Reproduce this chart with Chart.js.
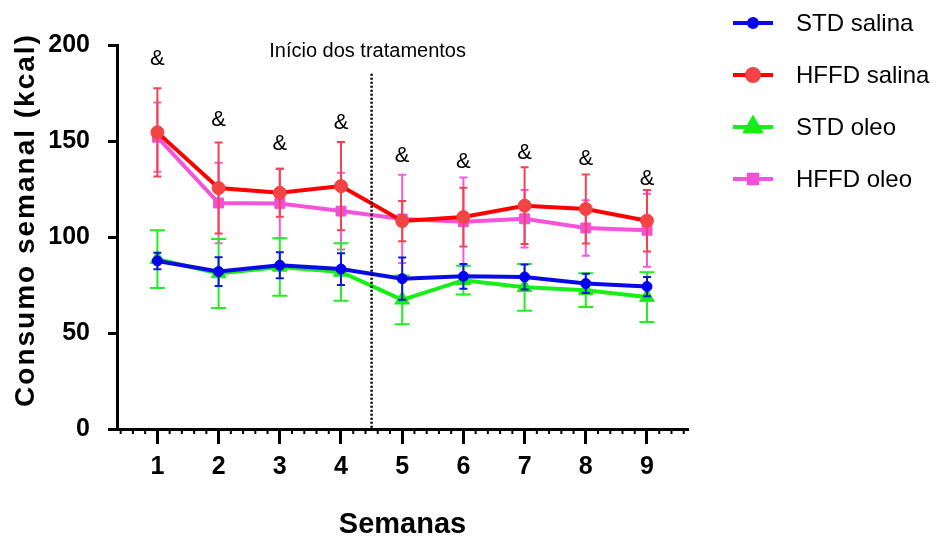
<!DOCTYPE html>
<html>
<head>
<meta charset="utf-8">
<title>Consumo semanal</title>
<script src="https://cdn.jsdelivr.net/npm/chart.js@4.4.1/dist/chart.umd.min.js"></script>
<style>
	html, body { margin: 0; padding: 0; background: #fff; }
</style>
</head>
<body>
<canvas id="canvasConsumo" width="938" height="538"></canvas>
<script>
"use strict";

// data (mean and error per week)
var weeks = [1, 2, 3, 4, 5, 6, 7, 8, 9];
var weekLabels = ['1', '2', '3', '4', '5', '6', '7', '8', '9'];
var yTicks = [0, 50, 100, 150, 200];

var stdSalina = [87.5, 82, 85.3, 83.3, 78.3, 79.5, 79.2, 75.8, 74.2];
var stdSalinaErr = [4.3, 7.5, 6.8, 8.3, 11, 6.5, 6.5, 5, 5];
var hffdSalina = [154.5, 125.5, 123, 126.5, 108.3, 110.4, 116.3, 114.6, 108.5];
var hffdSalinaErr = [23, 23.7, 12.5, 23, 10.5, 15.3, 20, 18, 16];
var stdOleo = [88.5, 81, 84.4, 81.8, 67.3, 77.5, 73.8, 72.3, 68.7];
var stdOleoErr = [15, 18, 15, 15, 12.7, 7.5, 12.2, 8.8, 13];
var hffdOleo = [152, 117.7, 117.5, 113.5, 109.4, 108, 109.5, 104.7, 103.5];
var hffdOleoErr = [18, 21, 18, 20, 23, 23, 15, 14.5, 19];

// "&" marks above each week
var ampY = [192.7, 161, 148.4, 159.4, 142.2, 139, 143.7, 140.6, 130.2];

var treatWeek = 4.5;
var treatTop = 185;
var treatLabel = 'Início dos tratamentos';

var FONT = '"Liberation Sans", Arial, sans-serif';
Chart.defaults.font.family = FONT;
Chart.defaults.color = '#000';

function toPoints(values) {
	return weeks.map(function (w, i) {
		return { x: w, y: values[i] };
	});
}

// error bars, drawn just before each line
var errorBarPlugin = {
	id: 'errorBars',
	beforeDatasetDraw: function (chart, args) {
		var ds = chart.data.datasets[args.index];
		var yScale = chart.scales.y;
		var ctx = chart.ctx;
		ctx.save();
		ctx.strokeStyle = ds.errorColor;
		ctx.lineWidth = 2;
		args.meta.data.forEach(function (pt, i) {
			var v = ds.data[i].y;
			var e = ds.errors[i];
			var top = yScale.getPixelForValue(v + e);
			var bot = yScale.getPixelForValue(v - e);
			var half = ds.capWidth / 2;
			ctx.beginPath();
			ctx.moveTo(pt.x, top);
			ctx.lineTo(pt.x, bot);
			ctx.moveTo(pt.x - half, top);
			ctx.lineTo(pt.x + half, top);
			ctx.moveTo(pt.x - half, bot);
			ctx.lineTo(pt.x + half, bot);
			ctx.stroke();
		});
		ctx.restore();
	}
};

// dotted line, label, minor ticks, "&" marks, y title and legend
var extrasPlugin = {
	id: 'extras',
	afterDraw: function (chart) {
		var ctx = chart.ctx;
		var xs = chart.scales.x;
		var ys = chart.scales.y;
		var area = chart.chartArea;
		ctx.save();

		// treatment start
		var tx = xs.getPixelForValue(treatWeek);
		ctx.strokeStyle = '#000';
		ctx.lineWidth = 2.5;
		ctx.setLineDash([2, 2]);
		ctx.beginPath();
		ctx.moveTo(tx, ys.getPixelForValue(treatTop));
		ctx.lineTo(tx, ys.getPixelForValue(0));
		ctx.stroke();
		ctx.setLineDash([]);
		ctx.fillStyle = '#000';
		ctx.font = '20px ' + FONT;
		ctx.textAlign = 'center';
		ctx.textBaseline = 'alphabetic';
		ctx.fillText(treatLabel, tx - 4, 57);

		// minor ticks on x axis
		ctx.lineWidth = 2;
		var axisY = area.bottom + 1;
		for (var v = Math.ceil(xs.min * 5) / 5; v <= xs.max; v += 0.2) {
			if (Math.abs(v - Math.round(v)) < 0.01) continue;
			var px = xs.getPixelForValue(v);
			ctx.beginPath();
			ctx.moveTo(px, axisY);
			ctx.lineTo(px, axisY + 4);
			ctx.stroke();
		}

		// & marks
		ctx.font = '22px ' + FONT;
		ctx.textBaseline = 'middle';
		weeks.forEach(function (w, i) {
			ctx.fillText('&', xs.getPixelForValue(w), ys.getPixelForValue(ampY[i]));
		});

		// y title
		ctx.save();
		ctx.translate(26, 220);
		ctx.rotate(-Math.PI / 2);
		ctx.font = 'bold 28px ' + FONT;
		ctx.letterSpacing = '2px';
		ctx.textAlign = 'center';
		ctx.fillText('Consumo semanal (kcal)', 0, 0);
		ctx.restore();

		// legend
		var lx = 733, ly = 23, gap = 52;
		chart.data.datasets.forEach(function (ds, i) {
			var y = ly + i * gap;
			ctx.strokeStyle = ds.borderColor;
			ctx.lineWidth = 4;
			ctx.beginPath();
			ctx.moveTo(lx, y);
			ctx.lineTo(lx + 40, y);
			ctx.stroke();
			ctx.fillStyle = ds.pointBackgroundColor;
			ctx.strokeStyle = ds.pointBorderColor;
			Chart.helpers.drawPoint(ctx, {
				pointStyle: ds.pointStyle,
				radius: ds.legendRadius,
				rotation: 0,
				borderWidth: 1
			}, lx + 20, y);
			ctx.fillStyle = '#000';
			ctx.font = '24px ' + FONT;
			ctx.textAlign = 'left';
			ctx.textBaseline = 'middle';
			ctx.fillText(ds.label, lx + 63, y + 1);
		});
		ctx.restore();
	}
};

var datasets = [{
	label: 'STD salina',
	data: toPoints(stdSalina),
	errors: stdSalinaErr,
	borderColor: '#0a0ae8',
	errorColor: '#1414e0',
	pointBackgroundColor: '#0000f0',
	pointBorderColor: '#0000f0',
	pointStyle: 'circle',
	pointRadius: 5,
	legendRadius: 4,
	capWidth: 8
}, {
	label: 'HFFD salina',
	data: toPoints(hffdSalina),
	errors: hffdSalinaErr,
	borderColor: '#ff0000',
	errorColor: '#f4424f',
	pointBackgroundColor: '#f24444',
	pointBorderColor: '#f24444',
	pointStyle: 'circle',
	pointRadius: 6.5,
	legendRadius: 6,
	capWidth: 8
}, {
	label: 'STD oleo',
	data: toPoints(stdOleo),
	errors: stdOleoErr,
	borderColor: '#16f016',
	errorColor: '#22ee22',
	pointBackgroundColor: '#12f012',
	pointBorderColor: '#12f012',
	pointStyle: 'triangle',
	pointRadius: 8.5,
	legendRadius: 8.5,
	capWidth: 15
}, {
	label: 'HFFD oleo',
	data: toPoints(hffdOleo),
	errors: hffdOleoErr,
	borderColor: '#f554da',
	errorColor: '#f35ae0',
	pointBackgroundColor: '#f050d8',
	pointBorderColor: '#f050d8',
	pointStyle: 'rect',
	pointRadius: 7,
	legendRadius: 6,
	capWidth: 8
}];

datasets.forEach(function (ds) {
	ds.borderWidth = 4;
	ds.pointBorderWidth = 1;
	ds.pointHoverRadius = ds.pointRadius;
	ds.fill = false;
	ds.tension = 0;
	ds.clip = false;
});

const context = document.getElementById('canvasConsumo');
const myChart = new Chart(context, {
	type: 'line',
	data: { datasets: datasets },
	options: {
		responsive: false,
		animation: false,
		events: [],
		layout: { padding: { top: 45, right: 250, bottom: 0, left: 0 } },
		plugins: {
			legend: { display: false },
			tooltip: { enabled: false }
		},
		scales: {
			x: {
				type: 'linear',
				min: 0.34,
				max: 9.67,
				afterBuildTicks: function (scale) {
					scale.ticks = weeks.map(function (w) { return { value: w }; });
				},
				afterFit: function (scale) { scale.height = 109; },
				ticks: {
					callback: function (value, index) { return weekLabels[index]; },
					font: { size: 25, weight: 'bold' },
					color: '#000',
					padding: 8,
					maxRotation: 0,
					autoSkip: false
				},
				grid: {
					drawOnChartArea: false,
					drawTicks: true,
					tickLength: 15,
					tickWidth: 3,
					tickColor: '#000'
				},
				border: { color: '#000', width: 3 },
				title: {
					display: true,
					text: 'Semanas',
					font: { size: 29, weight: 'bold', lineHeight: 0.9 },
					color: '#000',
					padding: 0
				}
			},
			y: {
				min: 0,
				max: 200,
				afterBuildTicks: function (scale) {
					scale.ticks = yTicks.map(function (t) { return { value: t }; });
				},
				afterFit: function (scale) { scale.width = 117; },
				ticks: {
					font: { size: 25, weight: 'bold' },
					color: '#000',
					padding: 18
				},
				grid: {
					drawOnChartArea: false,
					drawTicks: true,
					tickLength: 9,
					tickWidth: 3,
					tickColor: '#000'
				},
				border: { color: '#000', width: 3 }
			}
		}
	},
	plugins: [errorBarPlugin, extrasPlugin]
});
</script>
</body>
</html>
